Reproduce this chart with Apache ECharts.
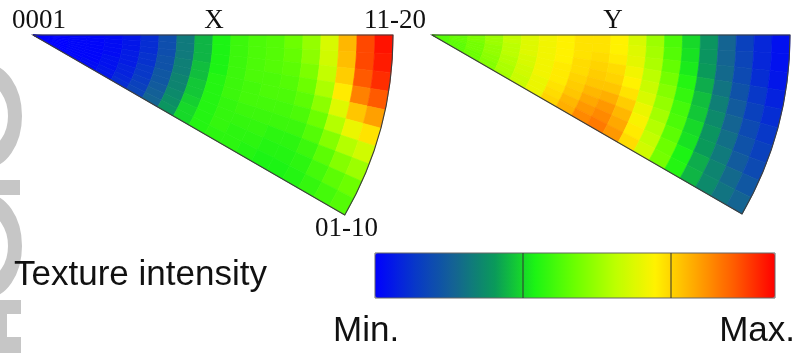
<!DOCTYPE html>
<html>
<head>
<meta charset="utf-8">
<script src="https://cdn.jsdelivr.net/npm/echarts@6/dist/echarts.min.js"></script>
<style>
  html, body { margin: 0; padding: 0; background: #fff; }
  #main { width: 801px; height: 353px; }
</style>
</head>
<body>
<div id="main"></div>
<script>
// radial bin centres (fraction of the equator radius) and angular bin centres (deg from 11-20)
const radiusBins = [0.025, 0.075, 0.125, 0.175, 0.225, 0.275, 0.325, 0.375, 0.425, 0.475,
                    0.525, 0.575, 0.625, 0.675, 0.725, 0.775, 0.825, 0.875, 0.925, 0.975];
const angleBins = [1.5, 4.5, 7.5, 10.5, 13.5, 16.5, 19.5, 22.5, 25.5, 28.5];
const RSTEP = 0.05, ASTEP = 3;

// texture intensity, 0 = Min., 1 = Max. One row per radial bin, one column per angular bin
const xIntensity = [
  [0.00, 0.00, 0.00, 0.00, 0.00, 0.00, 0.00, 0.00, 0.00, 0.00],
  [0.00, 0.00, 0.00, 0.00, 0.00, 0.00, 0.00, 0.00, 0.00, 0.00],
  [0.01, 0.01, 0.01, 0.01, 0.01, 0.01, 0.01, 0.01, 0.01, 0.01],
  [0.01, 0.01, 0.01, 0.01, 0.01, 0.01, 0.01, 0.01, 0.02, 0.02],
  [0.02, 0.02, 0.02, 0.02, 0.02, 0.03, 0.03, 0.03, 0.04, 0.04],
  [0.04, 0.04, 0.04, 0.05, 0.05, 0.05, 0.06, 0.06, 0.07, 0.08],
  [0.08, 0.08, 0.08, 0.09, 0.09, 0.10, 0.10, 0.11, 0.12, 0.13],
  [0.15, 0.15, 0.15, 0.16, 0.16, 0.17, 0.17, 0.18, 0.19, 0.20],
  [0.24, 0.24, 0.24, 0.25, 0.25, 0.26, 0.26, 0.27, 0.28, 0.29],
  [0.33, 0.33, 0.33, 0.34, 0.34, 0.35, 0.35, 0.36, 0.37, 0.37],
  [0.40, 0.40, 0.40, 0.40, 0.41, 0.41, 0.41, 0.41, 0.41, 0.41],
  [0.44, 0.44, 0.44, 0.44, 0.44, 0.44, 0.43, 0.43, 0.43, 0.42],
  [0.46, 0.46, 0.46, 0.46, 0.45, 0.45, 0.44, 0.43, 0.42, 0.42],
  [0.47, 0.47, 0.47, 0.46, 0.46, 0.45, 0.44, 0.43, 0.42, 0.41],
  [0.50, 0.49, 0.48, 0.47, 0.46, 0.45, 0.44, 0.42, 0.41, 0.40],
  [0.55, 0.54, 0.52, 0.50, 0.48, 0.46, 0.44, 0.42, 0.41, 0.40],
  [0.64, 0.63, 0.61, 0.58, 0.54, 0.50, 0.47, 0.44, 0.42, 0.41],
  [0.78, 0.77, 0.75, 0.71, 0.65, 0.59, 0.53, 0.48, 0.45, 0.43],
  [0.92, 0.92, 0.90, 0.85, 0.76, 0.67, 0.59, 0.53, 0.48, 0.45],
  [0.98, 0.97, 0.95, 0.90, 0.81, 0.72, 0.63, 0.56, 0.50, 0.47]
];
const yIntensity = [
  [0.47, 0.47, 0.47, 0.47, 0.47, 0.47, 0.47, 0.47, 0.47, 0.47],
  [0.49, 0.49, 0.49, 0.49, 0.49, 0.48, 0.48, 0.48, 0.48, 0.48],
  [0.52, 0.52, 0.52, 0.51, 0.51, 0.51, 0.51, 0.50, 0.50, 0.50],
  [0.56, 0.56, 0.56, 0.55, 0.55, 0.55, 0.54, 0.54, 0.53, 0.53],
  [0.61, 0.61, 0.60, 0.60, 0.60, 0.59, 0.59, 0.58, 0.58, 0.57],
  [0.65, 0.65, 0.65, 0.65, 0.64, 0.64, 0.63, 0.63, 0.62, 0.62],
  [0.68, 0.68, 0.68, 0.68, 0.68, 0.68, 0.68, 0.67, 0.67, 0.67],
  [0.70, 0.70, 0.70, 0.70, 0.71, 0.71, 0.71, 0.72, 0.73, 0.74],
  [0.72, 0.72, 0.72, 0.73, 0.73, 0.74, 0.75, 0.76, 0.78, 0.79],
  [0.72, 0.72, 0.73, 0.74, 0.75, 0.76, 0.78, 0.80, 0.82, 0.84],
  [0.70, 0.70, 0.71, 0.73, 0.74, 0.76, 0.79, 0.82, 0.84, 0.86],
  [0.64, 0.65, 0.66, 0.68, 0.70, 0.72, 0.75, 0.78, 0.80, 0.82],
  [0.56, 0.57, 0.58, 0.60, 0.62, 0.64, 0.67, 0.69, 0.71, 0.73],
  [0.46, 0.47, 0.49, 0.51, 0.53, 0.55, 0.57, 0.59, 0.61, 0.63],
  [0.37, 0.38, 0.39, 0.41, 0.43, 0.45, 0.46, 0.48, 0.50, 0.51],
  [0.29, 0.29, 0.30, 0.32, 0.34, 0.35, 0.37, 0.38, 0.40, 0.41],
  [0.20, 0.20, 0.21, 0.23, 0.25, 0.27, 0.29, 0.30, 0.32, 0.33],
  [0.12, 0.13, 0.14, 0.16, 0.18, 0.20, 0.22, 0.24, 0.26, 0.27],
  [0.07, 0.07, 0.08, 0.10, 0.12, 0.14, 0.16, 0.18, 0.21, 0.23],
  [0.03, 0.03, 0.04, 0.06, 0.08, 0.10, 0.12, 0.14, 0.17, 0.20]
];

const jetColors = ['#0000ff', '#0838c8', '#146492', '#0a9a5a', '#1cf414', '#6cff00',
                   '#bcff00', '#fff200', '#ffa800', '#ff5a00', '#ff0000'];
const colorbarDividers = [0.37, 0.74];

function toCells(grid) {
  const out = [];
  grid.forEach((row, i) => {
    row.forEach((v, j) => out.push([radiusBins[i], angleBins[j], v]));
  });
  return out;
}

// screen angle/radius of a polar data point, via the library's own scales
function polarPx(api, cs, r, a) {
  const p = api.coord([r, a]);
  return {
    r: Math.hypot(p[0] - cs.cx, p[1] - cs.cy),
    a: Math.atan2(p[1] - cs.cy, p[0] - cs.cx)
  };
}

function renderCell(params, api) {
  const cs = params.coordSys;
  const r = api.value(0), a = api.value(1);
  const inner = polarPx(api, cs, Math.max(r - RSTEP / 2, 0.0001), a - ASTEP / 2);
  const outer = polarPx(api, cs, r + RSTEP / 2, a + ASTEP / 2);
  const color = api.visual('color');
  return {
    type: 'sector',
    shape: { cx: cs.cx, cy: cs.cy, r0: r - RSTEP / 2 <= 0 ? 0 : inner.r, r: outer.r,
             startAngle: inner.a, endAngle: outer.a, clockwise: true },
    style: { fill: color, stroke: color, lineWidth: 0.7 }
  };
}

function renderOutline(params, api) {
  const cs = params.coordSys;
  const start = polarPx(api, cs, 1, 0);
  const end = polarPx(api, cs, 1, 30);
  return {
    type: 'sector',
    shape: { cx: cs.cx, cy: cs.cy, r0: 0, r: start.r, startAngle: start.a, endAngle: end.a, clockwise: true },
    style: { fill: 'none', stroke: '#3c3c3c', lineWidth: 1.1 }
  };
}

const chart = echarts.init(document.getElementById('main'));

const serif = '"Liberation Serif", "Times New Roman", serif';
const sans = '"Liberation Sans", Arial, sans-serif';
const bar = { x: 375, y: 253, w: 400, h: 45 };
const wm = '#c6c6c6';

function txt(x, y, text, font, align) {
  return { type: 'text', x: x, y: y, silent: true,
    style: { text: text, font: font, fill: '#111', textAlign: align || 'left', textVerticalAlign: 'middle' } };
}

function wmRing(cy) {
  return { type: 'arc', x: -14, y: cy, scaleY: 1.45, silent: true, z: 0,
    shape: { cx: 0, cy: 0, r: 29, startAngle: -Math.PI / 2, endAngle: Math.PI / 2 },
    style: { stroke: wm, lineWidth: 14, fill: 'none' } };
}

function wmRect(x, y, w, h) {
  return { type: 'rect', shape: { x: x, y: y, width: w, height: h }, style: { fill: wm }, silent: true, z: 0 };
}

const option = {
  backgroundColor: '#fff',
  animation: false,
  polar: [
    { center: [33, 35], radius: 360 },
    { center: [432, 35], radius: 358 }
  ],
  radiusAxis: [
    { polarIndex: 0, type: 'value', min: 0, max: 1, show: false },
    { polarIndex: 1, type: 'value', min: 0, max: 1, show: false }
  ],
  angleAxis: [
    { polarIndex: 0, type: 'value', min: 0, max: 360, startAngle: 0, clockwise: true, show: false },
    { polarIndex: 1, type: 'value', min: 0, max: 360, startAngle: 0, clockwise: true, show: false }
  ],
  visualMap: {
    type: 'continuous', min: 0, max: 1, dimension: 2, seriesIndex: [0, 1],
    orient: 'horizontal', left: bar.x, top: bar.y, itemWidth: bar.h, itemHeight: bar.w,
    padding: 0, calculable: false, hoverLink: false, text: null,
    inRange: { color: jetColors }
  },
  series: [
    { type: 'custom', coordinateSystem: 'polar', polarIndex: 0, renderItem: renderCell, data: toCells(xIntensity), silent: true },
    { type: 'custom', coordinateSystem: 'polar', polarIndex: 1, renderItem: renderCell, data: toCells(yIntensity), silent: true },
    { type: 'custom', coordinateSystem: 'polar', polarIndex: 0, renderItem: renderOutline, data: [[1, 0]], silent: true, z: 5 },
    { type: 'custom', coordinateSystem: 'polar', polarIndex: 1, renderItem: renderOutline, data: [[1, 0]], silent: true, z: 5 }
  ],
  graphic: [
    // faint watermark cut off at the left edge
    wmRing(116),
    wmRect(0, 180, 20, 15),
    wmRing(246),
    wmRect(0, 300, 21, 14),
    wmRect(0, 300, 7, 53),
    wmRect(0, 337, 21, 16),

    txt(12, 21, '0001', '27px ' + serif),
    txt(214, 21, 'X', '27px ' + serif, 'center'),
    txt(364, 21, '11-20', '27px ' + serif),
    txt(613, 21, 'Y', '27px ' + serif, 'center'),
    txt(315, 229, '01-10', '27px ' + serif),
    txt(14, 275, 'Texture intensity', '35px ' + sans),
    txt(333, 331, 'Min.', '35px ' + sans),
    txt(795, 331, 'Max.', '35px ' + sans, 'right'),

    { type: 'rect', shape: { x: bar.x, y: bar.y, width: bar.w, height: bar.h },
      style: { fill: 'none', stroke: '#666', lineWidth: 1 }, silent: true, z: 10 },
    ...colorbarDividers.map(f => ({
      type: 'line', shape: { x1: bar.x + f * bar.w, y1: bar.y, x2: bar.x + f * bar.w, y2: bar.y + bar.h },
      style: { stroke: '#333', lineWidth: 1 }, silent: true, z: 10
    }))
  ]
};

chart.setOption(option);
</script>
</body>
</html>
